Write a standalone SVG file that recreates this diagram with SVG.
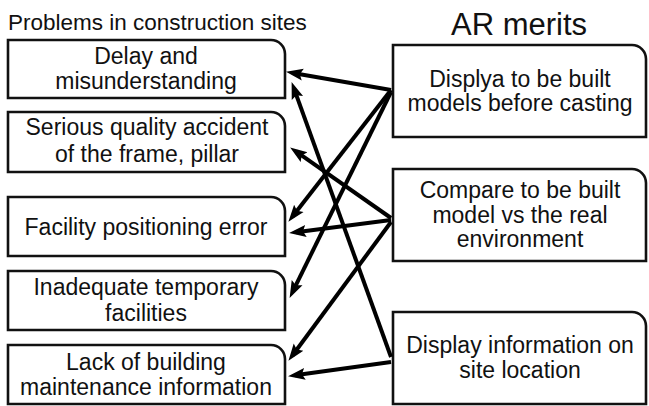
<svg xmlns="http://www.w3.org/2000/svg" width="649" height="406" viewBox="0 0 649 406">
<style>
.box{fill:#fff;stroke:#111;stroke-width:2.6}
.t{font-family:"Liberation Sans",Arial,sans-serif;font-size:23px;fill:#111;text-anchor:middle}
.title{font-family:"Liberation Sans",Arial,sans-serif;fill:#111}
.c{stroke:#000;stroke-width:4;fill:none;marker-end:url(#ah)}
</style>
<defs>
<marker id="ah" markerUnits="userSpaceOnUse" markerWidth="18" markerHeight="14" refX="10" refY="6" orient="auto" viewBox="0 0 18 12">
<path d="M0,0 L17,6 L0,12 L3,6 Z" fill="#000"/>
</marker>
</defs>
<rect width="649" height="406" fill="#fff"/>
<text class="title" x="8" y="30" font-size="22.5">Problems in construction sites</text>
<text class="title" x="519" y="35" font-size="31" text-anchor="middle">AR merits</text>

<g id="p1">
<path class="box" d="M8,40 H271 A14,14 0 0 1 285,54 V98 H8 Z"/>
<text class="t" x="146" y="64">Delay and</text>
<text class="t" x="146" y="89">misunderstanding</text>
</g>
<g id="p2">
<path class="box" d="M8,112 H271 A14,14 0 0 1 285,126 V172 H8 Z"/>
<text class="t" x="147" y="135">Serious quality accident</text>
<text class="t" x="147" y="162">of the frame, pillar</text>
</g>
<g id="p3">
<path class="box" d="M8,197 H271 A14,14 0 0 1 285,211 V256 H8 Z"/>
<text class="t" x="146" y="235">Facility positioning error</text>
</g>
<g id="p4">
<path class="box" d="M8,271 H271 A14,14 0 0 1 285,285 V330 H8 Z"/>
<text class="t" x="146" y="295">Inadequate temporary</text>
<text class="t" x="146" y="321">facilities</text>
</g>
<g id="p5">
<path class="box" d="M8,345 H271 A14,14 0 0 1 285,359 V404 H8 Z"/>
<text class="t" x="146" y="370">Lack of building</text>
<text class="t" x="146" y="395">maintenance information</text>
</g>

<g id="m1">
<path class="box" d="M393,45 H632 A14,14 0 0 1 646,59 V137 H393 Z"/>
<text class="t" x="520" y="87">Displya to be built</text>
<text class="t" x="520" y="111">models before casting</text>
</g>
<g id="m2">
<path class="box" d="M393,169 H632 A14,14 0 0 1 646,183 V261 H393 Z"/>
<text class="t" x="520" y="198">Compare to be built</text>
<text class="t" x="520" y="223">model vs the real</text>
<text class="t" x="520" y="247">environment</text>
</g>
<g id="m3">
<path class="box" d="M393,312 H632 A14,14 0 0 1 646,326 V404 H393 Z"/>
<text class="t" x="520" y="353">Display information on</text>
<text class="t" x="520" y="378">site location</text>
</g>

<g id="connectors">
<line class="c" x1="391" y1="90" x2="292.9" y2="73"/>
<line class="c" x1="391" y1="90" x2="292.7" y2="216.3"/>
<line class="c" x1="391" y1="92" x2="292.7" y2="291.6"/>
<line class="c" x1="391" y1="218" x2="295.9" y2="151.4"/>
<line class="c" x1="391" y1="220" x2="296" y2="232.2"/>
<line class="c" x1="391" y1="222" x2="292.6" y2="355.2"/>
<line class="c" x1="391" y1="357" x2="294" y2="88.6"/>
<line class="c" x1="391" y1="362" x2="295" y2="375.2"/>
</g>
</svg>
